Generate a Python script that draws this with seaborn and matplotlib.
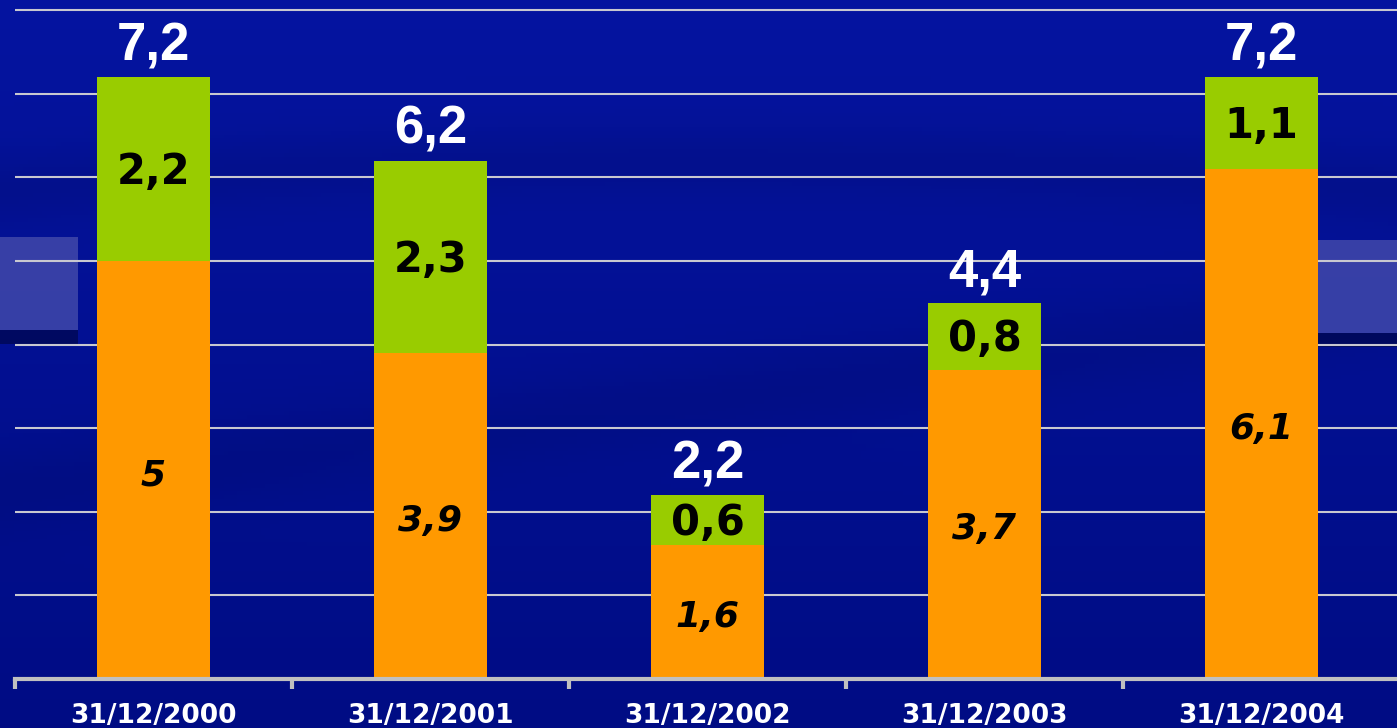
import numpy as np
import matplotlib
matplotlib.use("Agg")
import matplotlib.pyplot as plt
import seaborn as sns
from matplotlib.patches import Rectangle

# ---- data ----
dates = ["31/12/2000", "31/12/2001", "31/12/2002", "31/12/2003", "31/12/2004"]
orange_vals = [5.0, 3.9, 1.6, 3.7, 6.1]
green_vals = [2.2, 2.3, 0.6, 0.8, 1.1]
total_vals = [7.2, 6.2, 2.2, 4.4, 7.2]

ORANGE = "#FF9900"
GREEN = "#99CC00"
GRID = "#C8C8D0"

sns.set_theme(style="white")
plt.rcParams["font.family"] = ["Liberation Sans", "DejaVu Sans"]
HEAVY = ["DejaVu Sans"]

W, H = 1397, 728
fig = plt.figure(figsize=(W / 100, H / 100), dpi=100)

# ---- background ----
bg = fig.add_axes([0, 0, 1, 1], zorder=-10)
yy = np.linspace(0, 1, 200)[:, None]
xx = np.linspace(0, 1, 300)[None, :]
top = np.array([0x05, 0x14, 0xA0]) / 255
bot = np.array([0x00, 0x0C, 0x84]) / 255
t = np.clip(yy + 0.0 * xx, 0, 1)
img = top[None, None, :] * (1 - t[..., None]) + bot[None, None, :] * t[..., None]
sw = np.exp(-((yy - 0.22 - 0.15 * (xx - 0.5) ** 2) / 0.05) ** 2) * 0.08
sw2 = np.exp(-((yy - 0.60 + 0.25 * (xx - 0.3)) / 0.06) ** 2) * 0.07
img = img * (1 - (sw + sw2)[..., None])
bg.imshow(img, extent=[0, 1, 0, 1], aspect="auto", origin="upper")
for x0, y0, w, h in [(0, 237, 78, 93), (1316, 240, 90, 93)]:
    bg.add_patch(Rectangle((x0 / W, 1 - (y0 + h) / H), w / W, h / H,
                           facecolor="#3A42A8", edgecolor="none", alpha=0.95))
    bg.add_patch(Rectangle((x0 / W, 1 - (y0 + h + 14) / H), w / W, 14 / H,
                           facecolor="#000540", edgecolor="none", alpha=0.6))
bg.set_xlim(0, 1)
bg.set_ylim(0, 1)
bg.axis("off")

# ---- main axes ----
ax = fig.add_axes([15 / W, (H - 679) / H, 1385 / W, 679 / H])
ax.set_facecolor("none")

stack_tops = [o + g for o, g in zip(orange_vals, green_vals)]
sns.barplot(x=dates, y=stack_tops, color=GREEN, saturation=1, width=0.405,
            ax=ax, zorder=3, linewidth=0)
sns.barplot(x=dates, y=orange_vals, color=ORANGE, saturation=1, width=0.405,
            ax=ax, zorder=4, linewidth=0)

ax.set_ylim(0, 679 / 83.6)
ax.set_xlim(-0.5, len(dates) - 0.5)
ax.set_yticks(np.arange(1, 9))
ax.yaxis.grid(True, color=GRID, linewidth=1.5, zorder=1)
ax.set_axisbelow(True)
ax.tick_params(axis="y", left=False, labelleft=False)
for s in ["left", "right", "top"]:
    ax.spines[s].set_visible(False)
ax.spines["bottom"].set_color("#C0C0C0")
ax.spines["bottom"].set_linewidth(3)
ax.spines["bottom"].set_zorder(5)

ax.set_xticks(range(len(dates)))
ax.set_xticklabels(dates, fontsize=19, fontweight="bold", color="white",
                   family=HEAVY)
ax.tick_params(axis="x", which="major", bottom=True, length=0, pad=17)
ax.set_xticks(np.arange(-0.5, len(dates) + 0.5, 1), minor=True)
ax.tick_params(axis="x", which="minor", bottom=True, length=7, width=3,
               color="#C0C0C0", direction="out")
ax.set_xlabel("")
ax.set_ylabel("")

def fmt(v):
    s = f"{v:.1f}".replace(".", ",")
    return s[:-2] if s.endswith(",0") else s

for i, (o, g, tot) in enumerate(zip(orange_vals, green_vals, total_vals)):
    ax.text(i, o / 2 - 0.18, fmt(o), ha="center", va="baseline", fontsize=26,
            fontweight="bold", fontstyle="italic", color="black", zorder=6,
            family=HEAVY)
    ax.text(i, o + g / 2 - 0.18, fmt(g), ha="center", va="baseline",
            fontsize=30, fontweight="bold", color="black", zorder=6,
            family=HEAVY)
    ax.text(i, o + g + 0.2, fmt(tot), ha="center", va="baseline", fontsize=38,
            fontweight="bold", color="white", zorder=6)

fig.savefig("out.png", dpi=100)
